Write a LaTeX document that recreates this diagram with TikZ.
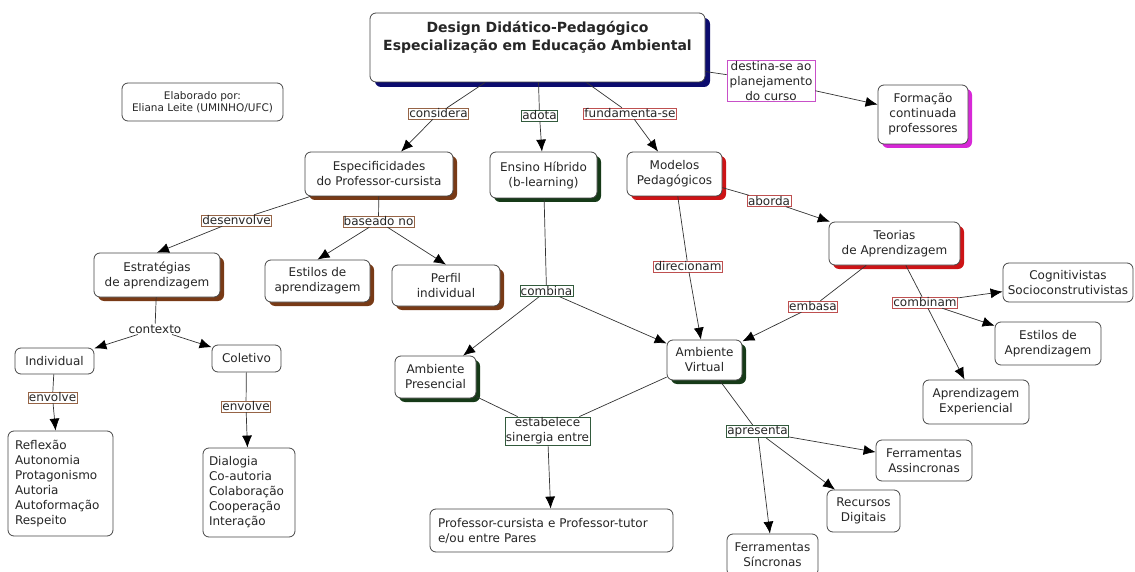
\documentclass[tikz,border=0pt]{standalone}
\usepackage{fontspec}
\setmainfont{DejaVu Sans}
\usetikzlibrary{shadows,arrows.meta}
\definecolor{boxline}{RGB}{70,70,70}
\definecolor{navyshadow}{RGB}{12,12,110}
\definecolor{brownshadow}{RGB}{120,58,22}
\definecolor{greenshadow}{RGB}{22,58,24}
\definecolor{redshadow}{RGB}{205,20,22}
\definecolor{magentashadow}{RGB}{215,40,215}
\definecolor{brownlink}{RGB}{150,100,70}
\definecolor{greenlink}{RGB}{50,90,60}
\definecolor{redlink}{RGB}{190,80,80}
\definecolor{magentalink}{RGB}{200,80,200}
\tikzset{
  concept/.style={draw=boxline, line width=0.8pt, rounded corners=6pt, fill=white, align=center, inner sep=3pt},
  navybox/.style={concept, drop shadow={shadow xshift=5pt, shadow yshift=-5pt, fill=navyshadow, opacity=1}},
  brownbox/.style={concept, drop shadow={shadow xshift=4pt, shadow yshift=-4pt, fill=brownshadow, opacity=1}},
  greenbox/.style={concept, drop shadow={shadow xshift=4pt, shadow yshift=-4pt, fill=greenshadow, opacity=1}},
  redbox/.style={concept, drop shadow={shadow xshift=4pt, shadow yshift=-4pt, fill=redshadow, opacity=1}},
  magentabox/.style={concept, drop shadow={shadow xshift=4pt, shadow yshift=-4pt, fill=magentashadow, opacity=1}},
  linktext/.style={fill=white, inner sep=0.8pt, line width=0.6pt, align=center},
  conn/.style={draw=black!80, line width=0.7pt}
}

\begin{document}
\begin{tikzpicture}[x=1pt, y=-1pt, font=\fontsize{12}{15}\selectfont, text=black!85, >={Latex[length=12pt,width=10pt,color=black]}]
\useasboundingbox (0,0) rectangle (1135,572);

\node[navybox, minimum width=335, minimum height=69] (title) at (537.5,47.5) {};
\node[font=\bfseries\fontsize{14}{18}\selectfont, align=center] (titletext) at (537.5,37) {Design Didático-Pedagógico\\Especialização em Educação Ambiental};
\node[concept, font=\fontsize{10.5}{12.5}\selectfont, minimum width=161, minimum height=38] (autora) at (202.5,102) {Elaborado por:\\Eliana Leite (UMINHO/UFC)};

\node[linktext, draw=magentalink, minimum width=88, minimum height=40] (destina) at (771,81) {destina-se ao\\planejamento\\do curso};
\node[magentabox, minimum width=90, minimum height=59] (formacao) at (923,114.5) {Formação\\continuada\\professores};

\node[linktext, draw=brownlink] (considera) at (438.5,113.5) {considera};
\node[linktext, draw=greenlink] (adota) at (539.5,115.5) {adota};
\node[linktext, draw=redlink] (fundamenta) at (630,113.5) {fundamenta-se};

\node[brownbox, minimum width=148, minimum height=44] (espec) at (379,174) {Especificidades\\do Professor-cursista};
\node[greenbox, minimum width=107, minimum height=46] (ensino) at (543.5,175) {Ensino Híbrido\\(b-learning)};
\node[redbox, minimum width=95, minimum height=44] (modelos) at (674.5,174) {Modelos\\Pedagógicos};

\node[linktext, draw=brownlink] (desenvolve) at (236.5,220.5) {desenvolve};
\node[linktext, draw=brownlink] (baseado) at (378.5,221.5) {baseado no};
\node[brownbox, minimum width=105, minimum height=42] (estilosA) at (317.5,281) {Estilos de\\aprendizagem};
\node[brownbox, minimum width=108, minimum height=41] (perfil) at (446,285.5) {Perfil\\individual};
\node[brownbox, minimum width=126, minimum height=44] (estrategias) at (157,275) {Estratégias\\de aprendizagem};

\node[fill=white, inner sep=1pt] (contexto) at (155,329) {contexto};
\node[concept, minimum width=79, minimum height=26] (individual) at (54.5,361) {Individual};
\node[concept, minimum width=69, minimum height=27] (coletivo) at (246.5,358.5) {Coletivo};
\node[linktext, draw=brownlink] (envolveA) at (52.5,397.5) {envolve};
\node[linktext, draw=brownlink] (envolveB) at (246,406.5) {envolve};
\node[concept, align=left, text width=91, minimum height=105, inner sep=7pt] (listaA) at (60.5,483.5) {Reflexão\\Autonomia\\Protagonismo\\Autoria\\Autoformação\\Respeito};
\node[concept, align=left, text width=80, minimum height=89, inner sep=6pt] (listaB) at (249,492.5) {Dialogia\\Co-autoria\\Colaboração\\Cooperação\\Interação};

\node[linktext, draw=greenlink] (combina) at (546.5,291) {combina};
\node[greenbox, minimum width=81, minimum height=42] (presencial) at (435.5,377) {Ambiente\\Presencial};
\node[greenbox, minimum width=75, minimum height=40] (virtual) at (704.5,360) {Ambiente\\Virtual};
\node[linktext, draw=redlink] (direcionam) at (688,266.5) {direcionam};
\node[linktext, draw=redlink] (aborda) at (769,201) {aborda};
\node[redbox, minimum width=131, minimum height=43] (teorias) at (894.5,243.5) {Teorias\\de Aprendizagem};
\node[linktext, draw=redlink] (embasa) at (813,306.5) {embasa};
\node[linktext, draw=redlink] (combinam) at (925,302.5) {combinam};
\node[concept, minimum width=130, minimum height=39] (cognitivistas) at (1068,282.5) {Cognitivistas\\Socioconstrutivistas};
\node[concept, minimum width=106, minimum height=43] (estilosB) at (1048,343.5) {Estilos de\\Aprendizagem};
\node[concept, minimum width=106, minimum height=44] (experiencial) at (976,402) {Aprendizagem\\Experiencial};

\node[linktext, draw=greenlink] (sinergia) at (547.5,431) {estabelece\\sinergia entre};
\node[concept, align=left, text width=227, minimum height=43, inner sep=8pt] (pares) at (551.5,530.5) {Professor-cursista e Professor-tutor\\e/ou entre Pares};
\node[linktext, draw=greenlink] (apresenta) at (757.5,431.5) {apresenta};
\node[concept, minimum width=96, minimum height=41] (assincronas) at (924,460.5) {Ferramentas\\Assincronas};
\node[concept, minimum width=73, minimum height=42] (recursos) at (863.5,511) {Recursos\\Digitais};
\node[concept, minimum width=91, minimum height=42] (sincronas) at (772.5,555) {Ferramentas\\Síncronas};

\draw[conn] (title) -- (considera);
\draw[conn,->] (considera) -- (espec);
\draw[conn] (title) -- (adota);
\draw[conn,->] (adota) -- (ensino);
\draw[conn] (title) -- (fundamenta);
\draw[conn,->] (fundamenta) -- (modelos);
\draw[conn] (title) -- (destina);
\draw[conn,->] (destina) -- (formacao);
\draw[conn] (espec) -- (desenvolve);
\draw[conn,->] (desenvolve) -- (estrategias.north);
\draw[conn] (espec) -- (baseado);
\draw[conn,->] (baseado) -- (estilosA.north);
\draw[conn,->] (baseado) -- (perfil.north);
\draw[conn] (estrategias) -- (contexto);
\draw[conn,->] (contexto) -- (individual);
\draw[conn,->] (contexto) -- (coletivo);
\draw[conn] (individual) -- (envolveA);
\draw[conn,->] (envolveA) -- (listaA);
\draw[conn] (coletivo) -- (envolveB);
\draw[conn,->] (envolveB) -- (listaB);
\draw[conn] (ensino) -- (combina);
\draw[conn,->] (combina) -- (presencial);
\draw[conn,->] (combina) -- (virtual);
\draw[conn] (modelos) -- (direcionam);
\draw[conn,->] (direcionam) -- (virtual);
\draw[conn] (modelos) -- (aborda);
\draw[conn,->] (aborda) -- (teorias);
\draw[conn] (teorias) -- (embasa);
\draw[conn,->] (embasa) -- (virtual);
\draw[conn] (teorias) -- (combinam);
\draw[conn,->] (combinam) -- (cognitivistas);
\draw[conn,->] (combinam) -- (estilosB);
\draw[conn,->] (combinam) -- (experiencial);
\draw[conn] (presencial) -- (sinergia);
\draw[conn] (virtual) -- (sinergia);
\draw[conn,->] (sinergia) -- (pares);
\draw[conn] (virtual) -- (apresenta);
\draw[conn,->] (apresenta) -- (assincronas);
\draw[conn,->] (apresenta) -- (recursos);
\draw[conn,->] (apresenta) -- (sincronas);
\end{tikzpicture}
\end{document}
